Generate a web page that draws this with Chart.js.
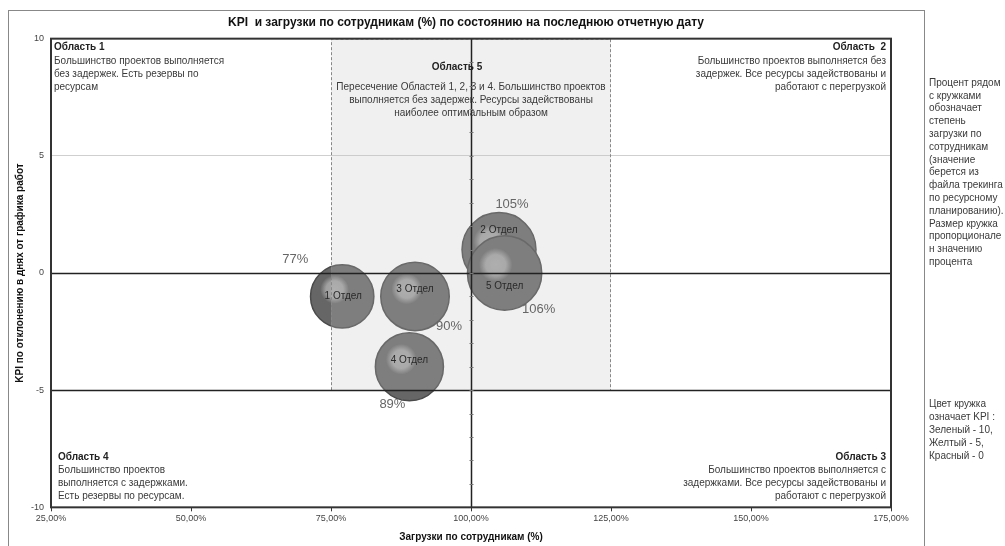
<!DOCTYPE html>
<html>
<head>
<meta charset="utf-8">
<script src="https://cdn.jsdelivr.net/npm/chart.js@4"></script>
<style>
  html, body { margin: 0; padding: 0; background: #fff; }
  canvas { display: block; }
</style>
</head>
<body>
<canvas id="chart1" width="1005" height="546"></canvas>
<script>
// departments: load (%) vs KPI (days of deviation)
const depts = ['1 Отдел', '2 Отдел', '3 Отдел', '4 Отдел', '5 Отдел'];
const load = [77, 105, 90, 89, 106];
const kpi = [-1, 1, -1, -4, 0];
const loadLabels = ['77%', '105%', '90%', '89%', '106%'];

const xRange = [25, 175];
const yRange = [-10, 10];
const zone5X = [75, 125];
const zone5Y = [-5, 10];

const title = 'KPI  и загрузки по сотрудникам (%) по состоянию на последнюю отчетную дату';
const xTitle = 'Загрузки по сотрудникам (%)';
const yTitle = 'KPI по отклонению в днях от графика работ';

const zone1 = ['Область 1', 'Большинство проектов выполняется', 'без задержек. Есть резервы по', 'ресурсам'];
const zone2 = ['Область  2', 'Большинство проектов выполняется без', 'задержек. Все ресурсы задействованы и', 'работают с перегрузкой'];
const zone3 = ['Область 3', 'Большинство проектов выполняется с', 'задержками. Все ресурсы задействованы и', 'работают с перегрузкой'];
const zone4 = ['Область 4', 'Большинство проектов', 'выполняется с задержками.', 'Есть резервы по ресурсам.'];
const zone5 = ['Область 5', 'Пересечение Областей 1, 2, 3 и 4. Большинство проектов', 'выполняется без задержек. Ресурсы задействованы', 'наиболее оптимальным образом'];

const note1 = ['Процент рядом', 'с кружками', 'обозначает', 'степень', 'загрузки по', 'сотрудникам', '(значение', 'берется из', 'файла трекинга', 'по ресурсному', 'планированию).', 'Размер кружка', 'пропорционале', 'н значению', 'процента'];
const note2 = ['Цвет кружка', 'означает KPI :', 'Зеленый - 10,', 'Желтый - 5,', 'Красный - 0'];

// label offsets in px (text placement only)
const pctOffset = [[-47, -37], [13, -45], [34, 30], [-17, 38], [34, 36]];
const nameOffset = [[1, 0], [0, -19], [0, -7], [0, -6], [0, 13]];

const FONT = '"Liberation Sans", Arial, sans-serif';

function lines(ctx, arr, x, y, step, align) {
  ctx.textAlign = align;
  ctx.textBaseline = 'middle';
  arr.forEach((s, i) => {
    ctx.font = (i === 0 ? 'bold ' : '') + '10px ' + FONT;
    ctx.fillStyle = i === 0 ? '#222' : '#3a3a3a';
    ctx.fillText(s, x, y + i * step);
  });
}

const extras = {
  id: 'extras',
  afterDatasetsDraw(chart) {
    const { ctx, chartArea: a, scales: { x, y } } = chart;
    ctx.save();

    // zone 5 box, semi transparent over bubbles
    const bx0 = x.getPixelForValue(zone5X[0]), bx1 = x.getPixelForValue(zone5X[1]);
    const by0 = y.getPixelForValue(zone5Y[1]), by1 = y.getPixelForValue(zone5Y[0]);
    ctx.fillStyle = 'rgba(196,196,196,0.255)';
    ctx.fillRect(bx0, by0, bx1 - bx0, by1 - by0);
    ctx.setLineDash([3, 2]);
    ctx.strokeStyle = '#888';
    ctx.lineWidth = 1;
    ctx.beginPath();
    ctx.moveTo(bx0 + 0.5, by1); ctx.lineTo(bx0 + 0.5, by0 + 0.5); ctx.lineTo(bx1 - 0.5, by0 + 0.5); ctx.lineTo(bx1 - 0.5, by1);
    ctx.stroke();
    ctx.setLineDash([]);

    // horizontal lines at 0 and -5, vertical line at 100%
    ctx.strokeStyle = '#222';
    ctx.lineWidth = 1.5;
    [0, -5].forEach(v => {
      const py = Math.round(y.getPixelForValue(v)) + 0.5;
      ctx.beginPath(); ctx.moveTo(a.left, py); ctx.lineTo(a.right, py); ctx.stroke();
    });
    const vx = Math.round(x.getPixelForValue(100)) + 0.5;
    ctx.beginPath(); ctx.moveTo(vx, a.top); ctx.lineTo(vx, a.bottom); ctx.stroke();
    ctx.lineWidth = 1;
    ctx.strokeStyle = '#777';
    for (let v = yRange[0] + 1; v < yRange[1]; v++) {
      const py = Math.round(y.getPixelForValue(v)) + 0.5;
      ctx.beginPath(); ctx.moveTo(vx - 2, py); ctx.lineTo(vx + 2, py); ctx.stroke();
    }

    // plot border
    ctx.strokeStyle = '#333';
    ctx.lineWidth = 2;
    ctx.strokeRect(a.left, a.top, a.right - a.left, a.bottom - a.top);

    // bubble names and load labels
    const meta = chart.getDatasetMeta(0);
    meta.data.forEach((el, i) => {
      ctx.textAlign = 'center';
      ctx.textBaseline = 'middle';
      ctx.font = '10px ' + FONT;
      ctx.fillStyle = '#2a2a2a';
      ctx.fillText(depts[i], el.x + nameOffset[i][0], el.y + nameOffset[i][1]);
      ctx.font = '13px ' + FONT;
      ctx.fillStyle = '#666';
      ctx.fillText(loadLabels[i], el.x + pctOffset[i][0], el.y + pctOffset[i][1]);
    });

    // zone texts
    lines(ctx, zone1, a.left + 3, a.top + 9, 13.3, 'left');
    lines(ctx, zone2, a.right - 5, a.top + 9, 13.3, 'right');
    lines(ctx, zone4, a.left + 7, a.bottom - 50, 13, 'left');
    lines(ctx, zone3, a.right - 5, a.bottom - 50, 13, 'right');
    ctx.textAlign = 'center';
    ctx.font = 'bold 10px ' + FONT;
    ctx.fillStyle = '#222';
    const cx = x.getPixelForValue(100);
    ctx.fillText(zone5[0], cx - 14, a.top + 29);
    ctx.font = '10px ' + FONT;
    ctx.fillStyle = '#3a3a3a';
    zone5.slice(1).forEach((s, i) => ctx.fillText(s, cx, a.top + 49 + i * 13));

    ctx.restore();
  },
  afterDraw(chart) {
    const { ctx, chartArea: a } = chart;
    ctx.save();
    // outer frame
    ctx.strokeStyle = '#888';
    ctx.lineWidth = 1;
    ctx.strokeRect(8.5, 10.5, 916, 545);

    ctx.fillStyle = '#111';
    ctx.textAlign = 'center';
    ctx.textBaseline = 'middle';
    ctx.font = 'bold 12px ' + FONT;
    ctx.fillText(title, 466, 23);
    ctx.font = 'bold 10px ' + FONT;
    ctx.fillText(xTitle, (a.left + a.right) / 2, 537);
    ctx.save();
    ctx.translate(20, (a.top + a.bottom) / 2);
    ctx.rotate(-Math.PI / 2);
    ctx.fillText(yTitle, 0, 0);
    ctx.restore();

    // side notes
    ctx.textAlign = 'left';
    ctx.font = '10px ' + FONT;
    ctx.fillStyle = '#3a3a3a';
    note1.forEach((s, i) => ctx.fillText(s, 929, 83 + i * 12.8));
    note2.forEach((s, i) => ctx.fillText(s, 929, 404 + i * 13));
    ctx.restore();
  }
};

function bubbleFill(c) {
  const chart = c.chart;
  if (!chart.chartArea || c.raw === undefined) return '#666';
  const px = chart.scales.x.getPixelForValue(c.raw.x);
  const py = chart.scales.y.getPixelForValue(c.raw.y);
  const r = c.raw.r;
  const gx = px - 0.24 * r, gy = py - 0.22 * r;
  const g = chart.ctx.createRadialGradient(gx, gy, 0, gx, gy, 0.45 * r);
  g.addColorStop(0, '#a8a8a8');
  g.addColorStop(0.6, '#a0a0a0');
  g.addColorStop(1, '#666');
  return g;
}

const bubble_data = {
  datasets: [{
    label: 'Отделы',
    data: load.map((v, i) => ({ x: v, y: kpi[i], r: 3.61 * Math.sqrt(v) })),
    backgroundColor: bubbleFill,
    borderColor: '#4a4a4a',
    borderWidth: 1.5
  }]
};

const bubble_config = {
  type: 'bubble',
  data: bubble_data,
  options: {
    responsive: false,
    animation: false,
    events: [],
    layout: { padding: { left: 8, top: 38, right: 114, bottom: 0 } },
    plugins: { legend: { display: false }, tooltip: { enabled: false }, title: { display: false } },
    scales: {
      x: {
        type: 'linear',
        min: xRange[0],
        max: xRange[1],
        ticks: {
          stepSize: 25,
          padding: 2,
          color: '#444',
          font: { family: FONT, size: 9 },
          callback: v => v.toFixed(2).replace('.', ',') + '%'
        },
        grid: { drawOnChartArea: false, drawTicks: true, tickLength: 4, color: '#333' },
        border: { display: false },
        afterFit(s) { s.height = 35; s.paddingLeft = 0; s.paddingRight = 0; }
      },
      y: {
        type: 'linear',
        min: yRange[0],
        max: yRange[1],
        ticks: {
          stepSize: 5,
          padding: 7,
          color: '#444',
          font: { family: FONT, size: 9 }
        },
        grid: {
          drawTicks: false,
          color: c => c.tick && c.tick.value === 5 ? '#cfcfcf' : 'rgba(0,0,0,0)'
        },
        border: { display: false },
        afterFit(s) { s.width = 43; s.paddingTop = 0; s.paddingBottom = 0; }
      }
    }
  },
  plugins: [extras]
};

const bubble_chart = new Chart(document.getElementById('chart1'), bubble_config);
</script>
</body>
</html>
